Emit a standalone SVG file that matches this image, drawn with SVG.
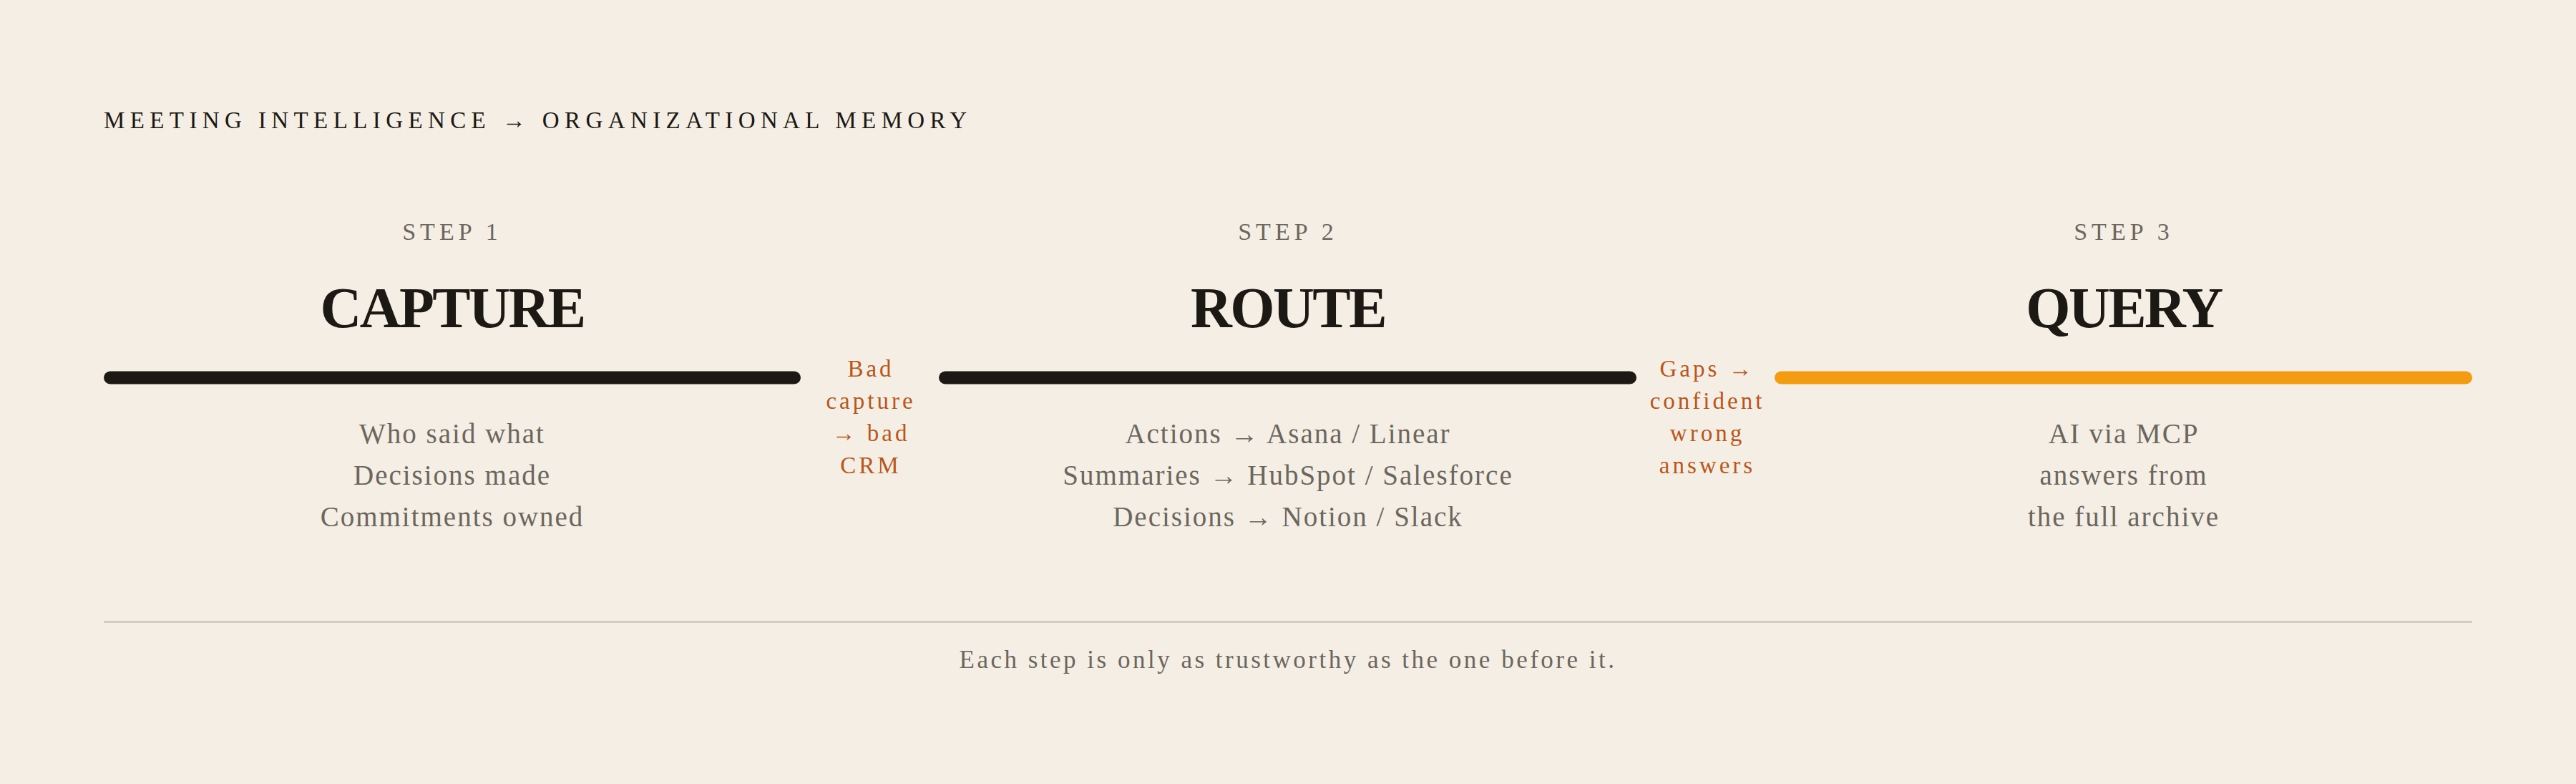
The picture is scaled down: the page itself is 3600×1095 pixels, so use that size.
<svg xmlns="http://www.w3.org/2000/svg" width="3600" height="1095" viewBox="0 0 3600 1095">
  <style>
    .bg { fill: #f4eee4; }
    .kicker { font-family: "Liberation Serif", "DejaVu Serif", serif; font-size: 33px; letter-spacing: 7.4px; fill: #1c1814; }
    .step { font-family: "Liberation Serif", "DejaVu Serif", serif; font-size: 34px; letter-spacing: 6px; fill: #6b665e; text-anchor: middle; }
    .title { font-family: "Liberation Serif", "DejaVu Serif", serif; font-size: 80px; font-weight: bold; letter-spacing: -2.5px; fill: #1c1814; text-anchor: middle; }
    .desc { font-family: "Liberation Serif", "DejaVu Serif", serif; font-size: 39px; letter-spacing: 2px; fill: #6b665e; text-anchor: middle; }
    .warn { font-family: "Liberation Serif", "DejaVu Serif", serif; font-size: 33px; letter-spacing: 4px; fill: #b8561b; text-anchor: middle; }
    .foot { font-family: "Liberation Serif", "DejaVu Serif", serif; font-size: 35px; letter-spacing: 3.5px; fill: #6b665e; text-anchor: middle; }
    .bar { stroke-width: 18; stroke-linecap: round; fill: none; }
    .bar-dark { stroke: #1c1814; }
    .bar-accent { stroke: #f39c12; }
    .rule { stroke: #d3cdc3; stroke-width: 3; }
  </style>
  <rect class="bg" x="0" y="0" width="3600" height="1095"/>

  <g id="header">
    <text class="kicker" x="145" y="179">MEETING INTELLIGENCE → ORGANIZATIONAL MEMORY</text>
  </g>

  <g id="step1">
    <text class="step" x="632" y="335">STEP 1</text>
    <text class="title" x="632" y="457">CAPTURE</text>
    <line class="bar bar-dark" x1="154" y1="527.5" x2="1110" y2="527.5"/>
    <text class="desc" x="632" y="619">Who said what</text>
    <text class="desc" x="632" y="677">Decisions made</text>
    <text class="desc" x="632" y="735">Commitments owned</text>
  </g>

  <g id="step2">
    <text class="step" x="1800" y="335">STEP 2</text>
    <text class="title" x="1800" y="457">ROUTE</text>
    <line class="bar bar-dark" x1="1321" y1="527.5" x2="2278" y2="527.5"/>
    <text class="desc" x="1800" y="619">Actions → Asana / Linear</text>
    <text class="desc" x="1800" y="677">Summaries → HubSpot / Salesforce</text>
    <text class="desc" x="1800" y="735">Decisions → Notion / Slack</text>
  </g>

  <g id="step3">
    <text class="step" x="2968" y="335">STEP 3</text>
    <text class="title" x="2968" y="457">QUERY</text>
    <line class="bar bar-accent" x1="2489" y1="527.5" x2="3446" y2="527.5"/>
    <text class="desc" x="2968" y="619">AI via MCP</text>
    <text class="desc" x="2968" y="677">answers from</text>
    <text class="desc" x="2968" y="735">the full archive</text>
  </g>

  <g id="connectors">
    <g id="gap1">
      <text class="warn" x="1217" y="526">Bad</text>
      <text class="warn" x="1217" y="571">capture</text>
      <text class="warn" x="1217" y="616">→ bad</text>
      <text class="warn" x="1217" y="661">CRM</text>
    </g>
    <g id="gap2">
      <text class="warn" x="2386" y="526">Gaps →</text>
      <text class="warn" x="2386" y="571">confident</text>
      <text class="warn" x="2386" y="616">wrong</text>
      <text class="warn" x="2386" y="661">answers</text>
    </g>
  </g>

  <g id="footer">
    <line class="rule" x1="145" y1="868.5" x2="3455" y2="868.5"/>
    <text class="foot" x="1800" y="933">Each step is only as trustworthy as the one before it.</text>
  </g>
</svg>
